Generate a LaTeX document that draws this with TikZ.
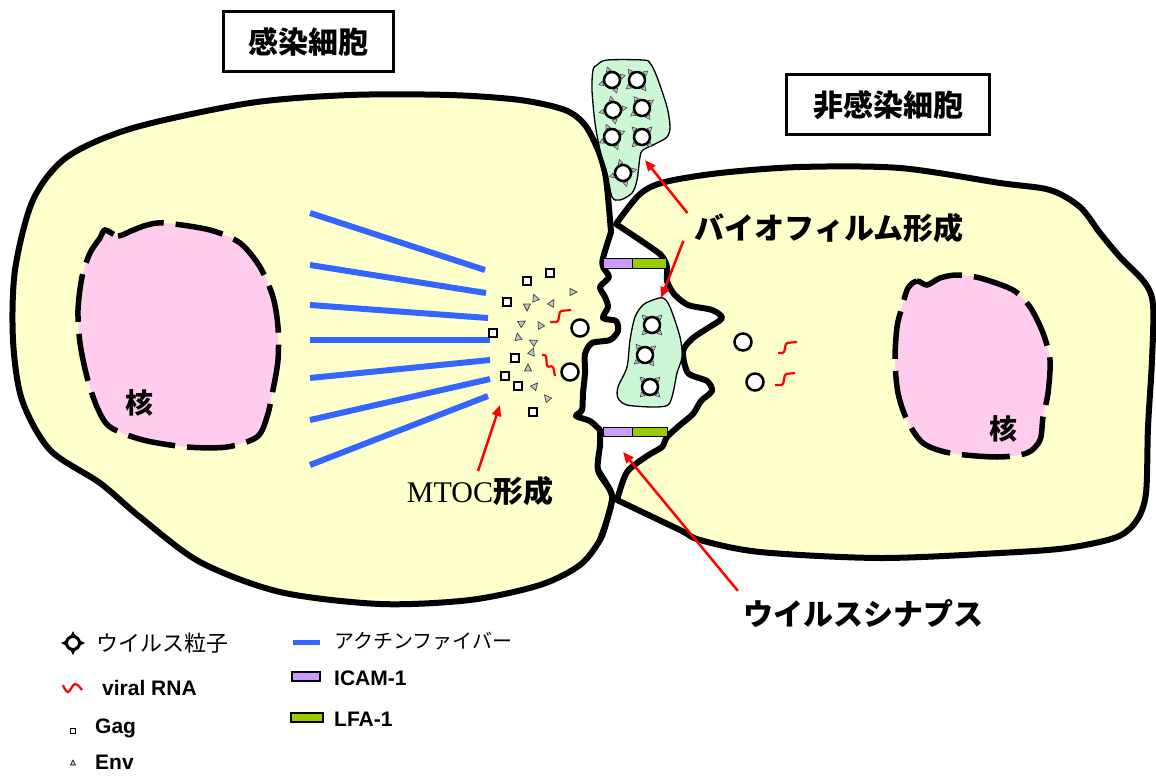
\documentclass[tikz,border=0pt]{standalone}
\usepackage{fontspec}
\setmainfont{Liberation Sans}
\newfontfamily\jp{Noto Sans CJK JP}
\newfontfamily\serifmt{Liberation Serif}
\usetikzlibrary{arrows.meta}
\definecolor{cellyellow}{HTML}{FFFFCC}
\definecolor{nucpink}{HTML}{FFCCEE}
\definecolor{filmgreen}{HTML}{CCF7D4}
\definecolor{actinblue}{HTML}{3366FF}
\definecolor{icampurple}{HTML}{CC99FF}
\definecolor{lfagreen}{HTML}{99CC00}
\definecolor{arrowred}{HTML}{FF0000}
\tikzset{
  cellwall/.style={line width=6pt, draw=black, fill=cellyellow, line join=round},
  nucleus/.style={line width=5.5pt, draw=black, fill=nucpink, dash pattern=on 48pt off 12pt},
  film/.style={line width=1.3pt, draw=black, fill=filmgreen},
  actin/.style={line width=6pt, draw=actinblue},
  rnastyle/.style={line width=2.2pt, draw=arrowred, rounded corners=1.5pt},
  pointer/.style={line width=2.5pt, draw=arrowred, -{Triangle[length=11pt,width=9pt]}},
  titlebox/.style={draw=black, line width=3pt, fill=white, font=\jp\bfseries\fontsize{30}{30}\selectfont, inner sep=0pt},
  biglabel/.style={font=\jp\bfseries\fontsize{30}{30}\selectfont, inner sep=1pt},
  leglabel/.style={anchor=west, inner sep=0pt},
  virion/.pic={
    \foreach \a in {0,90,180,270}{
      \draw[fill=gray!50, draw=black!75, line width=0.5pt, rotate=\a] (-2.5,-9.5) -- (2.5,-9.5) -- (0,-14) -- cycle;
    }
    \draw[line width=2.5pt, fill=white] (0,0) circle (8);
  },
  legvirion/.pic={
    \foreach \a in {0,90,180,270}{
      \fill[black, rotate=\a] (-2.5,-7) -- (2.5,-7) -- (0,-12) -- cycle;
    }
    \draw[line width=3pt, fill=white] (0,0) circle (6.5);
  },
  envtri/.pic={
    \draw[fill=gray!45, draw=black!75, line width=0.7pt] (0,-4) -- (3.5,3) -- (-3.5,3) -- cycle;
  },
}
\begin{document}
\begin{tikzpicture}[x=1pt, y=-1pt]
\useasboundingbox (0,0) rectangle (1156,781);
\fill[white] (0,0) rectangle (1156,781);

% infected cell (left), its right side forming the synapse wall
\path[cellwall] (611,232)
  -- plot[smooth, tension=0.45] coordinates {(611,232) (603,258) (603,267) (609,277) (600,287) (605,297) (608,307) (603,318) (616,321) (618,331) (610,340) (592,343) (585,354) (585,373) (583,393) (582,410) (576,416) (590,421) (600,430)}
  -- plot[smooth, tension=0.5] coordinates {(600,430) (600,445) (598,470) (610,490) (612,500) (607,520) (600,540) (580,565) (540,585) (470,600) (380,604) (280,592) (200,562) (140,517) (100,483) (50,450) (22,400) (13,340) (15,270) (33,200) (67,157) (133,128) (250,103) (350,95) (450,95) (520,100) (565,110) (585,125) (598,150) (605,173) (608,197) (611,232)}
  -- cycle;

% uninfected cell (right)
\path[cellwall] (616,224)
  -- plot[smooth, tension=0.5] coordinates {(616,224) (640,194) (665,182) (720,173) (800,167) (900,168) (1000,183) (1050,190) (1080,207) (1100,233) (1120,257) (1145,283) (1153,305) (1152,360) (1148,427) (1146,493) (1137,520) (1117,537) (1067,548) (1000,553) (880,558) (760,552) (700,540) (680,530) (617,500)}
  -- plot[smooth, tension=0.45] coordinates {(617,500) (627,472) (647,456) (662,447) (667,437) (680,425) (693,414) (701,401) (712,391) (707,381) (688,373) (683,351) (693,338) (708,328) (722,318) (712,310) (688,305) (674,294) (667,281) (667,267) (661,255) (640,240) (616,224)}
  -- cycle;

% lower crossing of the two membranes redrawn on top
\draw[line width=6pt, line join=round] plot[smooth, tension=0.5] coordinates {(598,470) (610,490) (612,500) (607,520) (600,540)};

% nuclei
\path[nucleus] plot[smooth cycle, tension=0.5] coordinates {(105,230) (118,236) (131,231) (147,225) (165,223) (210,230) (240,243) (260,267) (273,297) (278,327) (278,360) (273,390) (267,417) (257,437) (227,447) (187,447) (143,440) (110,427) (97,407) (87,377) (80,343) (78,310) (82,277) (90,253) (100,238)};
\path[nucleus] plot[smooth cycle, tension=0.5] coordinates {(908,288) (917,281) (927,285) (940,278) (957,275) (980,278) (1013,290) (1030,307) (1043,333) (1050,360) (1048,393) (1043,417) (1040,440) (1027,453) (997,457) (950,453) (923,443) (907,420) (898,393) (895,360) (897,327) (902,307)};
\node[font=\jp\bfseries\fontsize{28}{28}\selectfont] (nucL) at (139,403) {核};
\node[font=\jp\bfseries\fontsize{28}{28}\selectfont] (nucR) at (1003,429) {核};

% actin fibres fanning toward the MTOC
\draw[actin] (310,213) -- (485,270);
\draw[actin] (310,265) -- (486,293);
\draw[actin] (310,305) -- (488,318);
\draw[actin] (310,340) -- (490,340);
\draw[actin] (310,378) -- (490,360);
\draw[actin] (310,420) -- (490,379);
\draw[actin] (310,465) -- (488,396);

% Gag
\foreach \x/\y in {550/273, 527/281, 507/302, 493/333, 515/358, 505/376, 518/386, 533/412}
  \draw[line width=1.2pt, fill=white] (\x-4,\y-4) rectangle (\x+4,\y+4);
% Env
\foreach \x/\y/\r in {573/292/-90, 535/298/20, 527/307/180, 552/303/-30, 522/323/-60, 540/325/30, 518/337/10, 533/342/60, 532/352/-20, 528/368/0, 535/386/-40, 547/398/40}
  \pic[rotate=\r] at (\x,\y) {envtri};

% viral RNA
\draw[rnastyle] (550,322) -- (558,322) -- (560,311) -- (571,310);
\draw[rnastyle] (542,355) -- (546,355) -- (547,367) -- (553,366) -- (555,376);
\draw[rnastyle] (778,353) -- (784,353) -- (786,343) -- (797,342);
\draw[rnastyle] (775,385) -- (783,385) -- (785,374) -- (795,373);

% free virions
\foreach \x/\y in {580/328, 570/372, 743/342, 755/382}
  \draw[line width=2.5pt, fill=white] (\x,\y) circle (8.5);

% biofilm on the cell surface
\path[film] plot[smooth cycle, tension=0.5] coordinates {(597,65) (607,60) (643,60) (650,63) (657,77) (667,107) (670,127) (667,137) (657,143) (643,150) (640,157) (637,180) (632,193) (620,200) (612,197) (607,173) (600,150) (595,123) (592,90) (593,70)};
\foreach \x/\y/\r in {612/80/20, 637/80/40, 613/110/10, 642/108/35, 612/137/25, 642/137/45, 623/173/15}
  \pic[rotate=\r] at (\x,\y) {virion};

% biofilm inside the synapse
\path[film] plot[smooth cycle, tension=0.5] coordinates {(653,300) (663,298) (670,307) (680,337) (682,357) (677,373) (673,393) (668,405) (653,407) (627,405) (618,398) (618,387) (627,367) (630,340) (635,317) (643,305)};
\foreach \x/\y/\r in {652/325/45, 645/355/40, 650/387/45}
  \pic[rotate=\r] at (\x,\y) {virion};

% ICAM-1 / LFA-1 pairs
\draw[line width=1pt, fill=icampurple] (603,258) rectangle (632,268);
\draw[line width=1pt, fill=lfagreen] (632,258) rectangle (666,268);
\draw[line width=1pt, fill=icampurple] (603,427) rectangle (632,436);
\draw[line width=1pt, fill=lfagreen] (632,427) rectangle (667,436);

% titles
\node[titlebox, minimum width=170pt, minimum height=60pt] (infected) at (308,42) {感染細胞};
\node[titlebox, minimum width=203pt, minimum height=60pt] (uninfected) at (888,105) {非感染細胞};

% labels and pointers
\node[biglabel] (biofilm) at (829,228) {バイオフィルム形成};
\coordinate (biofilmTipA) at (645,160);
\coordinate (biofilmTipB) at (661,298);
\draw[pointer] ([shift={(-6,1)}]biofilm.north west) -- (biofilmTipA);
\draw[pointer] ([shift={(-10,-3)}]biofilm.south west) -- (biofilmTipB);

\node[inner sep=1pt] (mtoc) at (480,491) {{\serifmt\fontsize{30}{30}\selectfont MTOC}{\jp\bfseries\fontsize{30}{30}\selectfont 形成}};
\coordinate (mtocTip) at (500,405);
\draw[pointer] ([shift={(-2,-4)}]mtoc.north) -- (mtocTip);

\node[biglabel] (synapse) at (863,614) {ウイルスシナプス};
\coordinate (synapseTip) at (623,452);
\draw[pointer] ([shift={(-4,-8)}]synapse.north west) -- (synapseTip);

% legend
\pic at (73,643) {legvirion};
\node[leglabel, font=\jp\fontsize{22}{22}\selectfont] (legVirion) at (96,643) {ウイルス粒子};
\draw[line width=2.2pt, draw=arrowred] plot[smooth, tension=0.7] coordinates {(63,685) (68,692) (75,684) (82,690)};
\node[leglabel, font=\bfseries\fontsize{21}{21}\selectfont] (legRNA) at (102,688) {viral RNA};
\draw[line width=1pt, fill=white] (70,728) rectangle (75,733);
\node[leglabel, font=\bfseries\fontsize{21}{21}\selectfont] (legGag) at (95,728) {Gag};
\draw[line width=0.6pt, fill=gray!45] (73,760) -- (75.5,765) -- (70.5,765) -- cycle;
\node[leglabel, font=\bfseries\fontsize{21}{21}\selectfont] (legEnv) at (95,762) {Env};

\fill[actinblue] (293,640) rectangle (320,645);
\node[leglabel, font=\jp\fontsize{20}{20}\selectfont] (legActin) at (334,641) {アクチンファイバー};
\draw[line width=1.2pt, fill=icampurple] (292,672) rectangle (320,681);
\node[leglabel, font=\bfseries\fontsize{21}{21}\selectfont] (legICAM) at (334,678) {ICAM-1};
\draw[line width=1.2pt, fill=lfagreen] (291,713) rectangle (323,722);
\node[leglabel, font=\bfseries\fontsize{21}{21}\selectfont] (legLFA) at (334,719) {LFA-1};
\end{tikzpicture}
\end{document}
